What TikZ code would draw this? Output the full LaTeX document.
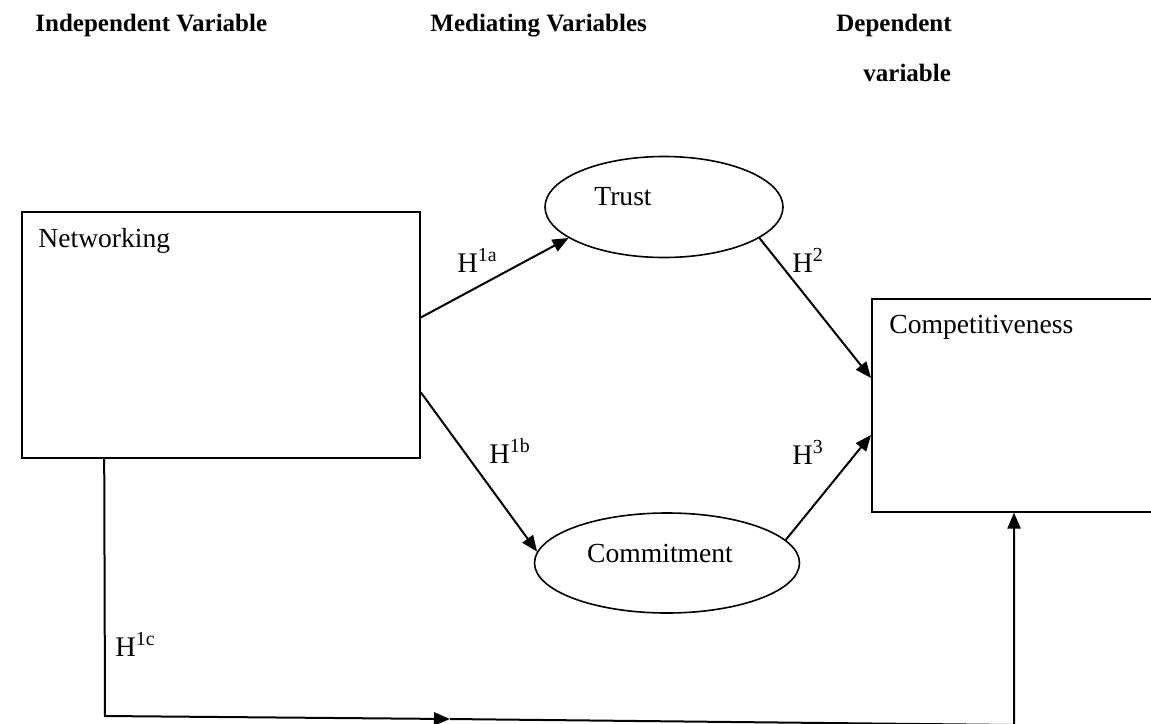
\documentclass[tikz,border=0pt]{standalone}
\usepackage{fontspec}
\setmainfont{Liberation Serif}
\usetikzlibrary{positioning,calc,shapes.geometric,arrows.meta}

\begin{document}
\begin{tikzpicture}[x=0.5pt,y=-0.5pt,
  box/.style={draw,line width=0.8pt,rectangle,inner sep=0pt},
  oval/.style={draw,line width=0.8pt,ellipse,inner sep=0pt},
  txt/.style={inner sep=0pt,font=\fontsize{13.8}{16}\selectfont},
  hyp/.style={inner sep=0pt,font=\fontsize{14.2}{16}\selectfont},
  head/.style={inner sep=0pt,font=\fontsize{12.5}{15}\selectfont\bfseries},
  arr/.style={line width=1pt,-{Triangle[length=8pt,width=6.5pt]}}]
\clip (0,0) rectangle (1151,723);
% headings
\node[head,anchor=base west] (indep) at (35,31) {Independent Variable};
\node[head,anchor=base west] (med) at (430,31) {Mediating Variables};
\node[head,anchor=base west] (dep) at (836,31) {Dependent};
\node[head,anchor=base west] (depb) at (863,81) {variable};
% boxes and ovals
\node[box,minimum width=199pt,minimum height=123pt] (net) at (221,335) {};
\node[txt,anchor=base west] (nettxt) at (38,247) {Networking};
\node[oval,minimum width=119pt,minimum height=50.5pt] (trust) at (664,207) {};
\node[txt,anchor=base] (trusttxt) at (623,205) {Trust};
\node[oval,minimum width=132.5pt,minimum height=50pt] (commit) at (667,563) {};
\node[txt,anchor=base] (committxt) at (660,562) {Commitment};
\node[box,anchor=north west,minimum width=150pt,minimum height=106.5pt] (comp) at (871,298) {};
\node[txt,anchor=base west] (comptxt) at (889,333) {Competitiveness};
% arrows
\draw[arr] (net.5) -- (trust.198);
\draw[arr] (net.-16) -- (commit.175);
\draw[arr] (trust.342) -- ($(comp.north west)+(0,80)$);
\draw[arr] (commit.11) -- ($(comp.north west)+(0,137)$);
\coordinate (b1) at ($(net.south west)+(83,0)$);
\coordinate (b2) at (105,716);
\coordinate (bmid) at (450,719);
\coordinate (b3) at (1014,725);
\coordinate (compbot) at ($(comp.south west)+(143,0)$);
\draw[arr] (b1) -- (b2) -- (bmid);
\draw[arr] (bmid) -- (b3) -- (compbot);
% hypotheses
\node[hyp,anchor=base west] (h1a) at (457,272) {H\textsuperscript{1a}};
\node[hyp,anchor=base west] (h1b) at (489,463) {H\textsuperscript{1b}};
\node[hyp,anchor=base west] (h2) at (792,272) {H\textsuperscript{2}};
\node[hyp,anchor=base west] (h3) at (792,464) {H\textsuperscript{3}};
\node[hyp,anchor=base west] (h1c) at (115,656) {H\textsuperscript{1c}};
\end{tikzpicture}
\end{document}
